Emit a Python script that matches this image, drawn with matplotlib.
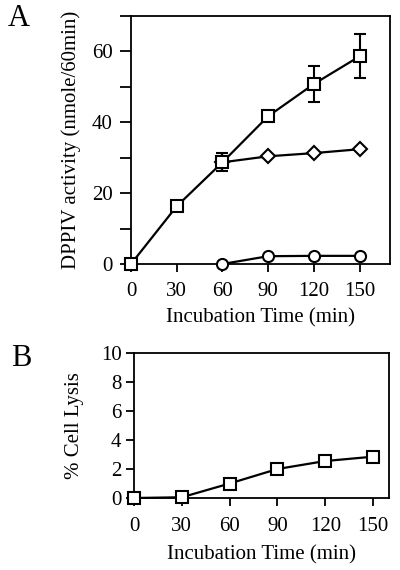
import matplotlib
matplotlib.use("Agg")
import matplotlib.pyplot as plt

plt.rcParams['font.family'] = ['Liberation Serif', 'DejaVu Serif']

# Panel A: DPPIV activity
time_a = [0, 30, 60, 90, 120, 150]
squares_a = [0, 16.3, 28.7, 41.7, 50.8, 58.6]
squares_err = [0, 0, 2.5, 1.0, 5.1, 6.2]
diam_time = [60, 90, 120, 150]
diamonds_a = [28.7, 30.4, 31.3, 32.4]
circ_time = [60, 90, 120, 150]
circles_a = [0, 2.2, 2.3, 2.3]

# Panel B: cell lysis
time_b = [0, 30, 60, 90, 120, 150]
lysis_b = [0, 0.05, 1.0, 2.0, 2.55, 2.85]

xticks = [0, 30, 60, 90, 120, 150]

fig = plt.figure(figsize=(4.0, 5.7), dpi=100)

mk = dict(color='black', lw=1.6, mfc='white', mec='black', mew=1.5, clip_on=False, zorder=3)
fs = 15

# ---- panel A
axA = fig.add_axes([131/400, 1 - 264/570, 259/400, 248/570])
axA.plot(circ_time, circles_a, marker='o', ms=8, **mk)
axA.plot(diam_time, diamonds_a, marker='D', ms=7, **mk)
axA.errorbar(time_a, squares_a, yerr=squares_err, marker='s', ms=8,
             capsize=4, elinewidth=1.5, capthick=1.5, ecolor='black', **mk)
axA.set_xlim(0, 170)
axA.set_ylim(0, 70)
axA.set_xticks(xticks)
axA.set_yticks(range(0, 71, 10))
axA.set_yticklabels(['0', '', '20', '', '40', '', '60', ''])
axA.tick_params(axis='y', length=8, width=1.3, labelsize=fs, direction='out', pad=5)
axA.tick_params(axis='x', length=6, width=1.3, labelsize=fs, direction='out', pad=7)
axA.set_ylabel('DPPIV activity (nmole/60min)', fontsize=fs, labelpad=8)
axA.set_xlabel('Incubation Time (min)', fontsize=fs, labelpad=5)
for s in axA.spines.values():
    s.set_linewidth(1.3)
fig.text(19/400, 1 - 18/570, 'A', fontsize=22, ha='center', va='center')

# ---- panel B
axB = fig.add_axes([134/400, 1 - 498/570, 255/400, 145/570])
axB.plot(time_b, lysis_b, marker='s', ms=8, **mk)
axB.set_xlim(0, 160)
axB.set_ylim(0, 10)
axB.set_xticks(xticks)
axB.set_yticks(range(0, 11, 2))
axB.tick_params(axis='y', length=6, width=1.3, labelsize=fs, direction='out', pad=3)
axB.tick_params(axis='x', length=6, width=1.3, labelsize=fs, direction='out', pad=8)
axB.set_ylabel('% Cell Lysis', fontsize=fs, labelpad=12)
axB.set_xlabel('Incubation Time (min)', fontsize=fs, labelpad=6)
for s in axB.spines.values():
    s.set_linewidth(1.3)
fig.text(21/400, 1 - 358/570, 'B', fontsize=22, ha='center', va='center')

fig.savefig('out.png', dpi=100)
